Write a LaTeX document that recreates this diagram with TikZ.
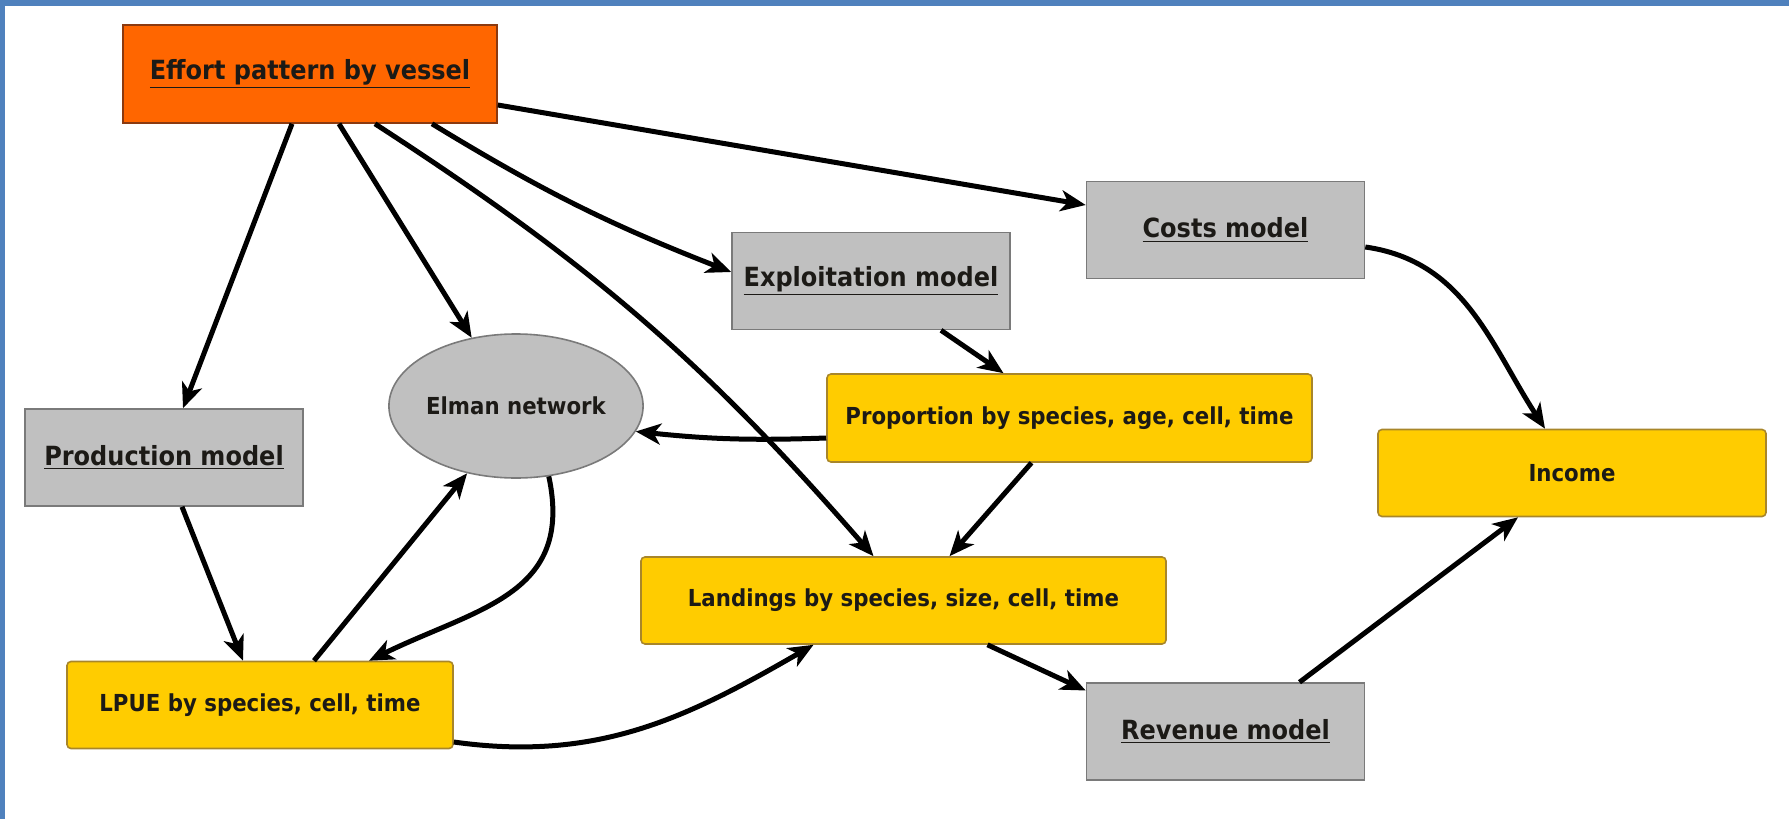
\documentclass[tikz,border=0pt]{standalone}
\usepackage{fontspec}
\setmainfont{DejaVu Sans}[FakeStretch=0.91]
\usetikzlibrary{arrows.meta,shapes.geometric}

\definecolor{frameblue}{HTML}{4F81BD}
\definecolor{effortfill}{HTML}{FF6600}
\definecolor{effortline}{HTML}{8B3A10}
\definecolor{modelfill}{HTML}{C0C0C0}
\definecolor{modelline}{HTML}{7A7A7A}
\definecolor{datafill}{HTML}{FFCC00}
\definecolor{dataline}{HTML}{A8862A}
\definecolor{labeltext}{HTML}{1C1A16}
\newcommand{\boxfont}{\fontsize{11.7}{14}\selectfont\bfseries}
\newcommand{\modelfont}{\fontsize{13.2}{15}\selectfont\bfseries}

\begin{document}
\begin{tikzpicture}[->,>={Stealth[length=12.5pt,width=10.5pt,inset=3.5pt]},x=0.5pt,y=0.5pt,
		effort node/.style={rectangle,draw=effortline,fill=effortfill,line width=0.8pt,minimum width=187pt,minimum height=49pt,inner sep=0pt,font=\modelfont,text=labeltext},
		model node/.style={rectangle,draw=modelline,fill=modelfill,line width=0.8pt,minimum width=139pt,minimum height=48.5pt,inner sep=0pt,font=\modelfont,text=labeltext},
		data node/.style={rectangle,rounded corners=2pt,draw=dataline,fill=datafill,line width=0.8pt,minimum height=43.5pt,inner sep=0pt,font=\boxfont,text=labeltext},
		net node/.style={ellipse,draw=modelline,fill=modelfill,line width=0.8pt,minimum width=126pt,minimum height=72pt,inner sep=0pt,font=\boxfont,text=labeltext}]
	\useasboundingbox (0,0) rectangle (1789,-819);
	\fill[-,frameblue] (0,0) rectangle (1789,-6);
	\fill[-,frameblue] (0,0) rectangle (5,-819);
	%
	\node[effort node] (0) at (310,-74) {\underline{Effort pattern by vessel}};
	\node[model node] (1) at (164,-457.5) {\underline{Production model}};
	\node[net node] (2) at (516,-406) {Elman network};
	\node[model node] (3) at (871,-281) {\underline{Exploitation model}};
	\node[model node] (4) at (1225.5,-230) {\underline{Costs model}};
	\node[data node,minimum width=242.5pt,minimum height=44pt] (5) at (1069.5,-418) {Proportion by species, age, cell, time};
	\node[data node,minimum width=193pt] (6) at (260,-705) {LPUE by species, cell, time};
	\node[data node,minimum width=262.5pt] (7) at (903.5,-600.5) {Landings by species, size, cell, time};
	\node[model node] (8) at (1225.5,-731.5) {\underline{Revenue model}};
	\node[data node,minimum width=194pt] (9) at (1572,-473) {Income};
	%
	% Effort pattern drives the models and the network.
	\path[line width=2.5pt]
		([xshift=-9pt]0.south) edge ([xshift=9.5pt]1.north)
		([xshift=14.5pt]0.south) edge (2.123)
		([xshift=32.5pt]0.south) edge [bend left=8] ([xshift=-15pt]7.north)
		([xshift=61pt]0.south) edge [bend right=5] ([yshift=4.5pt]3.west)
		([yshift=-15.5pt]0.east) edge ([yshift=12.5pt]4.west);
	%
	% Production model, LPUE and the Elman network loop.
	\path[line width=2.5pt]
		([xshift=9pt]1.south) edge ([xshift=-8.5pt]6.north)
		([xshift=27pt]6.north) edge (2.234)
		(2.295) edge [out=-78,in=26,looseness=1.2] ([xshift=54.5pt]6.north);
	%
	% Exploitation side down to the landings.
	\path[line width=2.5pt]
		([xshift=35pt]3.south) edge ([xshift=-33pt]5.north)
		([yshift=-10pt]5.west) edge [bend left=4] (2.348)
		([xshift=-19pt]5.south) edge ([xshift=23pt]7.north)
		([yshift=-18.5pt]6.east) edge [out=-8,in=210] ([xshift=-45pt]7.south);
	%
	% Revenue and costs into income.
	\path[line width=2.5pt]
		([xshift=42pt]7.south) edge ([yshift=20.5pt]8.west)
		([xshift=37pt]8.north) edge ([xshift=-27pt]9.south)
		([yshift=-8.5pt]4.east) edge [out=-8,in=123] ([xshift=-13.5pt]9.north);
\end{tikzpicture}
\end{document}
